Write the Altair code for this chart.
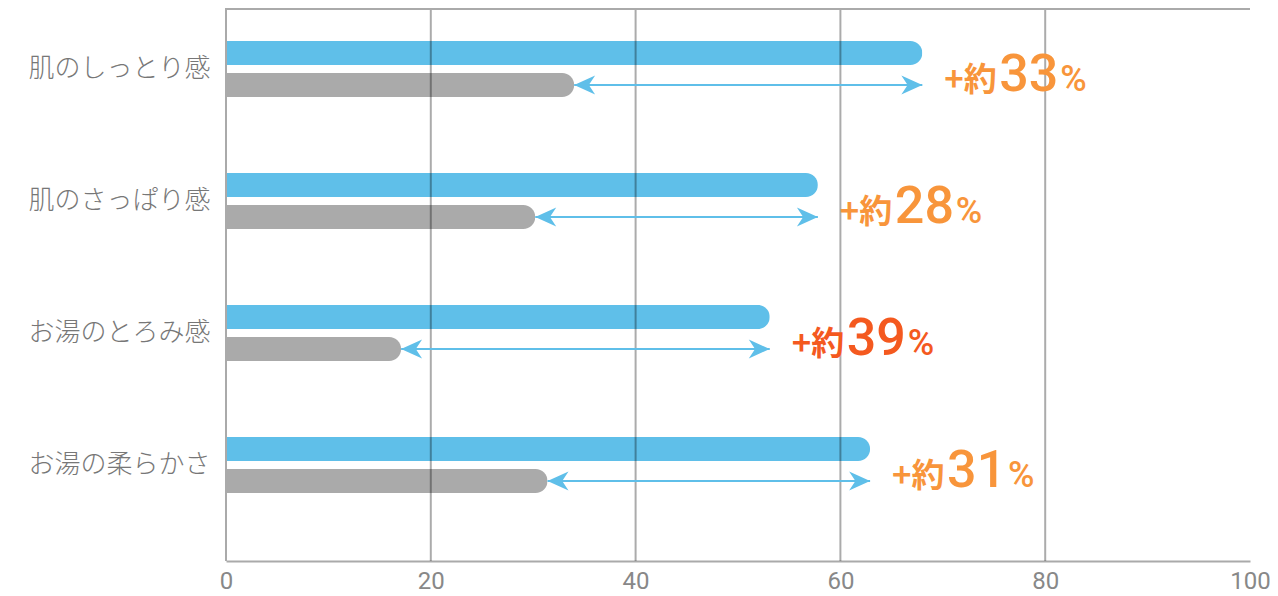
import altair as alt
import pandas as pd

categories = ["肌のしっとり感", "肌のさっぱり感", "お湯のとろみ感", "お湯の柔らかさ"]
after_vals = [68.0, 57.8, 53.1, 62.9]
before_vals = [34.0, 30.2, 17.1, 31.4]
diff_nums = ["33", "28", "39", "31"]
diff_colors = ["#f8953b", "#f8953b", "#f4591f", "#f8953b"]
series_names = ["使用後", "使用前"]
x_ticks = [0, 20, 40, 60, 80, 100]
grid_vals = [20, 40, 60, 80]

BLUE = "#5fbfe9"
GRAY = "#aaaaaa"

bars = pd.DataFrame({
    "cat": categories * 2,
    "series": [series_names[0]] * 4 + [series_names[1]] * 4,
    "value": after_vals + before_vals,
})
wide = pd.DataFrame({
    "cat": categories,
    "after": after_vals,
    "before": before_vals,
    "num": diff_nums,
    "color": diff_colors,
    "series": [series_names[1]] * 4,
    "plus": ["+約"] * 4,
    "pct": ["%"] * 4,
})
grid = pd.DataFrame({"g": grid_vals})

xscale = alt.Scale(domain=[0, 100], nice=False)
yscale = alt.Scale(range=[-5, 523], paddingInner=0, paddingOuter=0)
yoff_scale = alt.Scale(domain=series_names, range=[38, 94], paddingInner=0.25, paddingOuter=0)

y_enc = alt.Y("cat:N", sort=categories, scale=yscale,
              axis=alt.Axis(title=None, domain=False, ticks=False,
                            labelFontSize=26, labelColor="#777777",
                            labelFont="Noto Sans CJK JP", labelFontWeight=300,
                            labelPadding=16, labelLimit=400))
y_plain = alt.Y("cat:N", sort=categories, scale=yscale)

x_axis = alt.Axis(title=None, values=x_ticks, grid=False, ticks=False,
                  domainColor=GRAY, domainWidth=2, labelFontSize=24,
                  labelColor="#888888", labelFont="Roboto", labelPadding=8,
                  labelFlush=False)

bar_layer = alt.Chart(bars).mark_bar(cornerRadiusEnd=12).encode(
    x=alt.X("value:Q", scale=xscale, axis=x_axis),
    y=y_enc,
    yOffset=alt.YOffset("series:N", scale=yoff_scale, sort=series_names),
    color=alt.Color("series:N", scale=alt.Scale(domain=series_names, range=[BLUE, GRAY]), legend=None),
)

grid_layer = alt.Chart(grid).mark_rule(color="black", opacity=0.33, strokeWidth=2).encode(
    x=alt.X("g:Q", scale=xscale),
)

left_line = alt.Chart(grid).mark_rule(color=GRAY, strokeWidth=2).encode(
    x=alt.datum(0),
)
top_line = alt.Chart(grid).mark_rule(color=GRAY, strokeWidth=2).encode(
    x=alt.datum(0), x2=alt.datum(100), y=alt.value(1),
)

arrow_line = alt.Chart(wide).mark_rule(color=BLUE, strokeWidth=2).encode(
    x=alt.X("before:Q", scale=xscale),
    x2="after:Q",
    y=y_plain,
    yOffset=alt.YOffset("series:N", scale=yoff_scale, sort=series_names),
)
right_head = alt.Chart(wide).mark_point(
    shape="M0,0 L-2,-0.9 L-1.4,0 L-2,0.9 Z", filled=True, size=440, color=BLUE, opacity=1
).encode(
    x=alt.X("after:Q", scale=xscale),
    y=y_plain,
    yOffset=alt.YOffset("series:N", scale=yoff_scale, sort=series_names),
)
left_head = alt.Chart(wide).mark_point(
    shape="M0,0 L2,-0.9 L1.4,0 L2,0.9 Z", filled=True, size=440, color=BLUE, opacity=1
).encode(
    x=alt.X("before:Q", scale=xscale),
    y=y_plain,
    yOffset=alt.YOffset("series:N", scale=yoff_scale, sort=series_names),
)

plus_text = alt.Chart(wide).mark_text(
    align="left", baseline="alphabetic", dx=22, dy=22, fontSize=33,
    fontWeight="bold", font="Noto Sans CJK JP"
).encode(
    x=alt.X("after:Q", scale=xscale), y=y_plain,
    text="plus:N", color=alt.Color("color:N", scale=None),
)
num_text = alt.Chart(wide).mark_text(
    align="left", baseline="alphabetic", dx=77, dy=22, fontSize=52,
    fontWeight=500, font="Roboto"
).encode(
    x=alt.X("after:Q", scale=xscale), y=y_plain,
    text="num:N", color=alt.Color("color:N", scale=None),
)
pct_text = alt.Chart(wide).mark_text(
    align="left", baseline="alphabetic", dx=138, dy=22, fontSize=36,
    fontWeight=500, font="Roboto"
).encode(
    x=alt.X("after:Q", scale=xscale), y=y_plain,
    text="pct:N", color=alt.Color("color:N", scale=None),
)

chart = alt.layer(
    bar_layer, grid_layer, left_line, top_line,
    arrow_line, right_head, left_head,
    plus_text, num_text, pct_text,
).properties(
    width=1024, height=553,
    autosize=alt.AutoSizeParams(type="none"),
    padding={"left": 218, "top": 0, "right": 20, "bottom": 35},
).configure(background="white").configure_view(stroke="transparent", strokeWidth=0)

chart.save("out.html", embed_options={"renderer": "svg", "actions": False})
